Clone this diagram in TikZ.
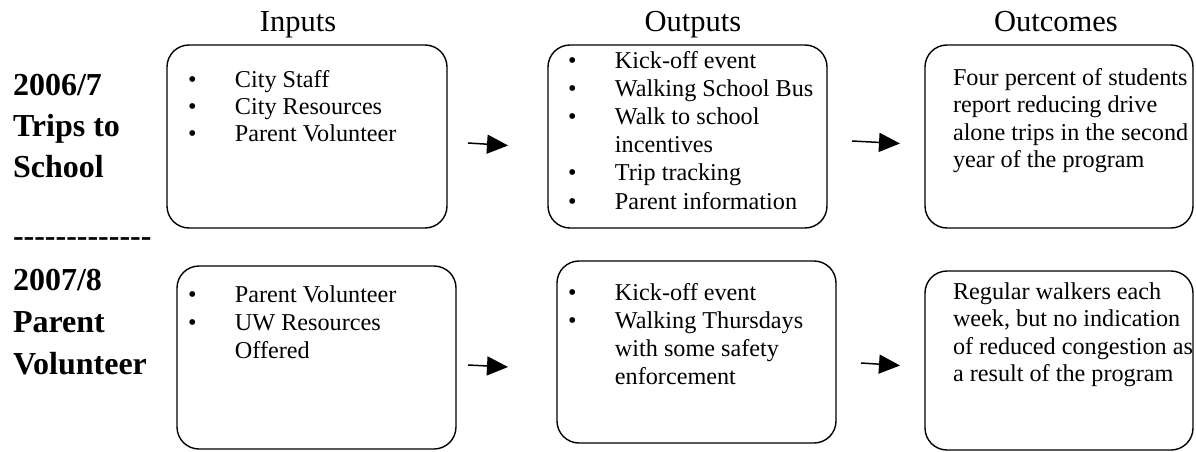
\documentclass[tikz,border=0pt]{standalone}
\usepackage{fontspec}
\setmainfont{Liberation Serif}
\usetikzlibrary{arrows.meta}
\begin{document}
\begin{tikzpicture}[x=1pt,y=-1pt,
  box/.style={draw, line width=1.4pt, rounded corners=22pt, anchor=north west, inner sep=0pt, outer sep=0pt},
  txt/.style={anchor=base west, inner sep=0pt, outer sep=0pt, font=\fontsize{24.2}{27.5}\selectfont},
  txtw/.style={anchor=base west, inner sep=0pt, outer sep=0pt, font=\fontsize{24.2}{28.2}\selectfont},
  head/.style={anchor=base, inner sep=0pt, font=\fontsize{30.5}{36}\selectfont},
  side/.style={anchor=base west, inner sep=0pt, outer sep=0pt, font=\fontsize{32}{#1}\selectfont\bfseries},
  arr/.style={line width=1.5pt, -{Triangle[length=21pt,width=19pt]}}]
\useasboundingbox (0,0) rectangle (1196,452);

% headings
\node[head] (hin) at (298,32) {Inputs};
\node[head] (hout) at (693,32) {Outputs};
\node[head] (hoc) at (1056,32) {Outcomes};

% side labels
\node[side=41] (y1) at (13,95) {\begin{tabular}[t]{@{}l@{}}2006/7\\Trips to\\School\end{tabular}};
\node[side=42] (sep) at (13,246) {-{}-{}-{}-{}-{}-{}-{}-{}-{}-{}-{}-{}-};
\node[side=42] (y2) at (13,290) {\begin{tabular}[t]{@{}l@{}}2007/8\\Parent\\Volunteer\end{tabular}};

% boxes row 1
\node[box, minimum width=280pt, minimum height=183pt] (in1) at (167,45) {};
\node[box, minimum width=279pt, minimum height=183pt] (out1) at (548,45) {};
\node[box, minimum width=268pt, minimum height=183pt] (oc1) at (925,45) {};
% boxes row 2
\node[box, minimum width=279pt, minimum height=183pt] (in2) at (177,266) {};
\node[box, minimum width=279pt, minimum height=182pt] (out2) at (557,261) {};
\node[box, minimum width=268pt, minimum height=179pt] (oc2) at (925,271) {};

% texts row 1
\node[txt] (tin1) at (188,87) {\begin{tabular}[t]{@{}l@{\hspace{38.5pt}}l@{}}
\textbullet & City Staff\\
\textbullet & City Resources\\
\textbullet & Parent Volunteer\end{tabular}};
\node[txtw] (tout1) at (568,68) {\begin{tabular}[t]{@{}l@{\hspace{38.5pt}}l@{}}
\textbullet & Kick-off event\\
\textbullet & Walking School Bus\\
\textbullet & Walk to school\\
 & incentives\\
\textbullet & Trip tracking\\
\textbullet & Parent information\end{tabular}};
\node[txt] (toc1) at (953,85) {\begin{tabular}[t]{@{}l@{}}
Four percent of students\\
report reducing drive\\
alone trips in the second\\
year of the program\end{tabular}};

% texts row 2
\node[txtw] (tin2) at (188,302) {\begin{tabular}[t]{@{}l@{\hspace{38.5pt}}l@{}}
\textbullet & Parent Volunteer\\
\textbullet & UW Resources\\
 & Offered\end{tabular}};
\node[txtw] (tout2) at (568,300) {\begin{tabular}[t]{@{}l@{\hspace{38.5pt}}l@{}}
\textbullet & Kick-off event\\
\textbullet & Walking Thursdays\\
 & with some safety\\
 & enforcement\end{tabular}};
\node[txt] (toc2) at (953,299) {\begin{tabular}[t]{@{}l@{}}
Regular walkers each\\
week, but no indication\\
of reduced congestion as\\
a result of the program\end{tabular}};

% arrows
\coordinate (a1s) at (468,143);
\coordinate (a1e) at (508,145.5);
\coordinate (a2s) at (852,141);
\coordinate (a2e) at (900,143.5);
\coordinate (a3s) at (468,365);
\coordinate (a3e) at (508,367);
\coordinate (a4s) at (861,363);
\coordinate (a4e) at (900,365.5);
\draw[arr] (a1s) -- (a1e);
\draw[arr] (a2s) -- (a2e);
\draw[arr] (a3s) -- (a3e);
\draw[arr] (a4s) -- (a4e);
\end{tikzpicture}
\end{document}
